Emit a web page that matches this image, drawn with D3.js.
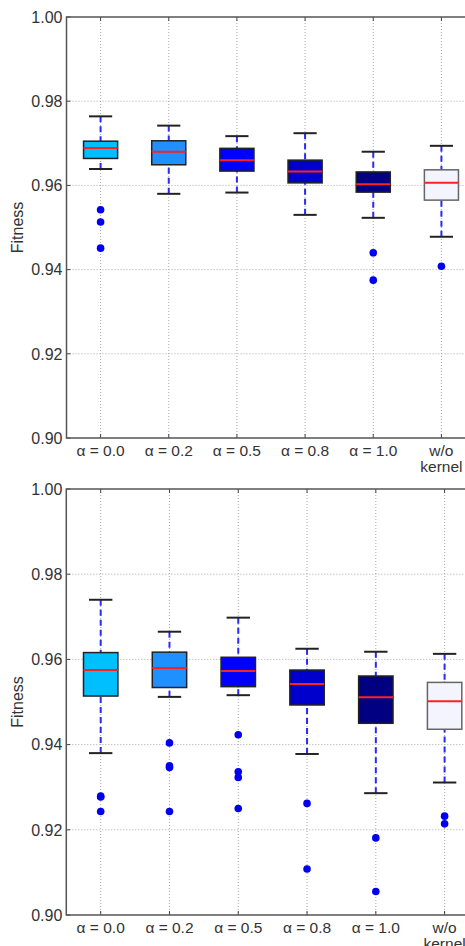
<!DOCTYPE html>
<html>
<head>
<meta charset="utf-8">
<script src="https://cdn.jsdelivr.net/npm/d3@7"></script>
<style>
  body { margin: 0; background: #fff; }
  text { font-family: "Liberation Sans", Arial, sans-serif; }
</style>
</head>
<body>
<script>
var w = 465;
var h = 946;

// categories and colours of the boxes
var categories = ["α = 0.0", "α = 0.2", "α = 0.5", "α = 0.8", "α = 1.0", "w/o kernel"];
var boxColors = ["#00bfff", "#1e90ff", "#0000ff", "#0000cd", "#000080", "#f4f4ff"];
var yTicks = [0.90, 0.92, 0.94, 0.96, 0.98, 1.00];

// top panel: [whisker low, q1, median, q3, whisker high]
var topStats = [
  [0.9639, 0.9664, 0.9689, 0.9705, 0.9764],
  [0.9580, 0.9649, 0.9680, 0.9706, 0.9742],
  [0.9583, 0.9634, 0.9660, 0.9688, 0.9717],
  [0.9530, 0.9606, 0.9633, 0.9660, 0.9724],
  [0.9523, 0.9584, 0.9603, 0.9632, 0.9680],
  [0.9478, 0.9565, 0.9606, 0.9637, 0.9694]
];
var topOutliers = [
  [0.9542, 0.9513, 0.9451],
  [],
  [],
  [],
  [0.9440, 0.9375],
  [0.9408]
];

// bottom panel
var bottomStats = [
  [0.9380, 0.9514, 0.9575, 0.9616, 0.9740],
  [0.9512, 0.9534, 0.9580, 0.9617, 0.9665],
  [0.9516, 0.9536, 0.9573, 0.9605, 0.9698],
  [0.9378, 0.9493, 0.9542, 0.9575, 0.9625],
  [0.9286, 0.9450, 0.9511, 0.9561, 0.9618],
  [0.9311, 0.9436, 0.9502, 0.9546, 0.9613]
];
var bottomOutliers = [
  [0.9279, 0.9277, 0.9243],
  [0.9404, 0.9350, 0.9346, 0.9243],
  [0.9423, 0.9336, 0.9323, 0.9250],
  [0.9262, 0.9108],
  [0.9181, 0.9055],
  [0.9232, 0.9214]
];

var svg = d3.select("body")
        .append("svg")
        .attr("width", w)
        .attr("height", h);

function drawPanel(stats, outliers, left, right, top, bottom) {
  var x = d3.scaleBand()
          .domain(categories)
          .range([left, right]);
  var y = d3.scaleLinear()
          .domain([0.90, 1.00])
          .range([bottom, top]);

  var g = svg.append("g");
  var bw = x.bandwidth();
  var cx = function(i) { return x(categories[i]) + bw / 2; };

  // grid
  g.selectAll("line.hgrid")
    .data(yTicks.slice(1, -1))
    .enter().append("line")
    .attr("x1", left).attr("x2", right)
    .attr("y1", function(d) { return y(d); })
    .attr("y2", function(d) { return y(d); })
    .attr("stroke", "#a8a8a8")
    .attr("stroke-dasharray", "1,2");
  g.selectAll("line.vgrid")
    .data(categories)
    .enter().append("line")
    .attr("x1", function(d) { return x(d) + bw / 2; })
    .attr("x2", function(d) { return x(d) + bw / 2; })
    .attr("y1", top).attr("y2", bottom)
    .attr("stroke", "#a8a8a8")
    .attr("stroke-dasharray", "1,2");

  // inward ticks
  g.selectAll("line.ytk")
    .data(yTicks)
    .enter().append("line")
    .attr("x1", left).attr("x2", left + 4)
    .attr("y1", function(d) { return y(d); })
    .attr("y2", function(d) { return y(d); })
    .attr("stroke", "#444");
  [bottom, top].forEach(function(yy) {
    g.selectAll(null)
      .data(categories)
      .enter().append("line")
      .attr("x1", function(d) { return x(d) + bw / 2; })
      .attr("x2", function(d) { return x(d) + bw / 2; })
      .attr("y1", yy)
      .attr("y2", yy == bottom ? yy - 4 : yy + 4)
      .attr("stroke", "#444");
  });

  var boxes = g.selectAll("g.box")
    .data(stats)
    .enter().append("g")
    .attr("class", "box");

  // whiskers
  boxes.append("line")
    .attr("x1", function(d, i) { return cx(i); })
    .attr("x2", function(d, i) { return cx(i); })
    .attr("y1", function(d) { return y(d[0]); })
    .attr("y2", function(d) { return y(d[1]); })
    .attr("stroke", "#2a2aff").attr("stroke-width", 2)
    .attr("stroke-dasharray", "6,4");
  boxes.append("line")
    .attr("x1", function(d, i) { return cx(i); })
    .attr("x2", function(d, i) { return cx(i); })
    .attr("y1", function(d) { return y(d[4]); })
    .attr("y2", function(d) { return y(d[3]); })
    .attr("stroke", "#2a2aff").attr("stroke-width", 2)
    .attr("stroke-dasharray", "6,4");

  // caps
  [0, 4].forEach(function(k) {
    boxes.append("line")
      .attr("x1", function(d, i) { return cx(i) - bw * 0.17; })
      .attr("x2", function(d, i) { return cx(i) + bw * 0.17; })
      .attr("y1", function(d) { return y(d[k]); })
      .attr("y2", function(d) { return y(d[k]); })
      .attr("stroke", "#222").attr("stroke-width", 2);
  });

  // box body
  boxes.append("rect")
    .attr("x", function(d, i) { return cx(i) - bw * 0.25; })
    .attr("width", bw * 0.5)
    .attr("y", function(d) { return y(d[3]); })
    .attr("height", function(d) { return y(d[1]) - y(d[3]); })
    .attr("fill", function(d, i) { return boxColors[i]; })
    .attr("stroke", function(d, i) { return i == 5 ? "#666" : "#222"; })
    .attr("stroke-width", 1.5);

  // median
  boxes.append("line")
    .attr("x1", function(d, i) { return cx(i) - bw * 0.25; })
    .attr("x2", function(d, i) { return cx(i) + bw * 0.25; })
    .attr("y1", function(d) { return y(d[2]); })
    .attr("y2", function(d) { return y(d[2]); })
    .attr("stroke", "#ff2020").attr("stroke-width", 2);

  // outliers
  outliers.forEach(function(list, i) {
    g.selectAll(null)
      .data(list)
      .enter().append("circle")
      .attr("cx", cx(i))
      .attr("cy", function(d) { return y(d); })
      .attr("r", 3.8)
      .attr("fill", "#0000ee");
  });

  // frame (left, top, bottom)
  g.append("path")
    .attr("d", "M" + right + "," + top + "H" + left + "V" + bottom + "H" + right)
    .attr("fill", "none")
    .attr("stroke", "#555")
    .attr("stroke-width", 1.5);

  // y tick labels
  g.selectAll("text.ytick")
    .data(yTicks)
    .enter().append("text")
    .attr("x", left - 4)
    .attr("y", function(d) { return y(d); })
    .attr("dy", "0.36em")
    .attr("text-anchor", "end")
    .attr("font-size", 16)
    .attr("fill", "#333")
    .text(function(d) { return d.toFixed(2); });

  // x labels
  categories.forEach(function(c, i) {
    var lines = c === "w/o kernel" ? ["w/o", "kernel"] : [c];
    var t = g.append("text")
      .attr("x", cx(i))
      .attr("y", bottom + 18)
      .attr("text-anchor", "middle")
      .attr("font-size", 15.5)
      .attr("fill", "#333");
    lines.forEach(function(s, k) {
      t.append("tspan")
        .attr("x", cx(i))
        .attr("dy", k === 0 ? 0 : 16)
        .text(s);
    });
  });

  // axis title
  g.append("text")
    .attr("transform", "translate(23," + ((top + bottom) / 2) + ") rotate(-90)")
    .attr("text-anchor", "middle")
    .attr("font-size", 16)
    .attr("fill", "#333")
    .text("Fitness");
}

drawPanel(topStats, topOutliers, 66.5, 475.5, 17, 438);
drawPanel(bottomStats, bottomOutliers, 66.3, 479, 489, 915);
</script>
</body>
</html>
